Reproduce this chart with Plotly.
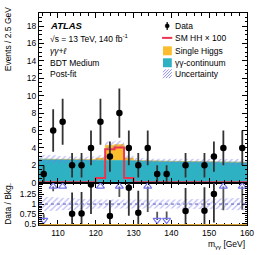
import numpy as np
import plotly.graph_objects as go

# ---------------- data ----------------
bin_lo, bin_hi, bin_w = 105.0, 160.0, 2.5
edges = np.arange(bin_lo, bin_hi + bin_w / 2, bin_w)
centers = 0.5 * (edges[:-1] + edges[1:])

data_counts = [1, 6, 7, 2, 2, 4, 7, 3, 8, 4, 2, 4, 1, 1, 0, 2, 0, 2, 3, 4, 0, 4]
continuum = [2.70, 2.68, 2.66, 2.64, 2.62, 2.60, 2.58, 2.56, 2.55, 2.53, 2.51,
             2.50, 2.48, 2.46, 2.45, 2.43, 2.42, 2.40, 2.39, 2.37, 2.36, 2.34]
single_higgs = [0, 0, 0, 0, 0, 0.08, 0.25, 1.75, 1.85, 0.30, 0.05,
                0, 0, 0, 0, 0, 0, 0, 0, 0, 0, 0]
sm_hh_x100 = [0.05, 0.05, 0.05, 0.05, 0.05, 0.05, 0.55, 3.85, 4.05, 0.55, 0.05,
              0.05, 0.05, 0.05, 0.05, 0.05, 0.05, 0.05, 0.05, 0.05, 0.05, 0.05]
bkg_unc = [0.50, 0.46, 0.42, 0.38, 0.35, 0.33, 0.32, 0.42, 0.42, 0.30, 0.28,
           0.27, 0.27, 0.27, 0.28, 0.29, 0.30, 0.31, 0.32, 0.34, 0.36, 0.38]

x_ticks = [110, 120, 130, 140, 150, 160]
ratio_ticks = [0.5, 0.75, 1, 1.25]

# ---------------- styling ----------------
W, H = 266, 255
ML, MR, MT, MB = 39, 14, 12, 30
PW, PH = W - ML - MR, H - MT - MB
split = (225 - 182.5) / PH
Y_MAIN = [0, 19.5]
Y_RAT = [0.47, 1.54]
CYAN = "#2eb2c3"
ORANGE = "#fbbd2d"
RED = "#ea3550"
HATCH = "#7474f0"
FONT = "Liberation Sans, Arial, sans-serif"
FS = 8.5


def px(xp):
    return (xp - ML) / PW


def py(yp):
    return (H - MB - yp) / PH


def step(vals):
    xs, ys = [], []
    for i, v in enumerate(vals):
        xs += [edges[i], edges[i + 1]]
        ys += [v, v]
    return xs, ys


n = np.array(data_counts, dtype=float)
cont = np.array(continuum)
hig = np.array(single_higgs)
bkg = cont + hig
unc = np.array(bkg_unc)

fig = go.Figure()

# continuum
xs, ys = step(cont)
fig.add_trace(go.Scatter(x=xs, y=ys, mode="lines", fill="tozeroy", fillcolor=CYAN,
                         line=dict(color=CYAN, width=0.8), xaxis="x", yaxis="y",
                         showlegend=False, hoverinfo="skip"))
# single higgs stacked
xs, ys = step(bkg)
fig.add_trace(go.Scatter(x=xs, y=ys, mode="lines", fill="tonexty", fillcolor=ORANGE,
                         line=dict(color=ORANGE, width=0.5), xaxis="x", yaxis="y",
                         showlegend=False, hoverinfo="skip"))
# uncertainty band
xu, yu = step(bkg + unc)
xl, yl = step(bkg - unc)
fig.add_trace(go.Scatter(x=xu + xl[::-1], y=yu + yl[::-1], mode="lines", fill="toself",
                         fillcolor="rgba(0,0,0,0)",
                         fillpattern=dict(shape="/", fgcolor=HATCH, bgcolor="rgba(0,0,0,0)",
                                          size=4, solidity=0.3, fillmode="overlay"),
                         line=dict(width=0), xaxis="x", yaxis="y",
                         showlegend=False, hoverinfo="skip"))
# SM HH x100
xs, ys = step(sm_hh_x100)
fig.add_trace(go.Scatter(x=xs, y=ys, mode="lines", line=dict(color=RED, width=2),
                         xaxis="x", yaxis="y", showlegend=False, hoverinfo="skip"))
# data
m = n > 0
fig.add_trace(go.Scatter(x=centers[m], y=n[m], mode="markers",
                         marker=dict(color="black", size=6.5),
                         error_y=dict(type="data", array=np.sqrt(n[m]), color="#333333",
                                      thickness=1.8, width=0),
                         xaxis="x", yaxis="y", showlegend=False, hoverinfo="skip"))

# ---------------- ratio panel ----------------
rb_hi = 1 + unc / bkg
rb_lo = 1 - unc / bkg
xu, yu = step(rb_hi)
xl, yl = step(rb_lo)
fig.add_trace(go.Scatter(x=xu + xl[::-1], y=yu + yl[::-1], mode="lines", fill="toself",
                         fillcolor="rgba(0,0,0,0)",
                         fillpattern=dict(shape="/", fgcolor=HATCH, bgcolor="rgba(0,0,0,0)",
                                          size=4, solidity=0.3, fillmode="overlay"),
                         line=dict(width=0), xaxis="x2", yaxis="y2",
                         showlegend=False, hoverinfo="skip"))

ratio = n / bkg
rerr = np.sqrt(n) / bkg
UP_Y, DN_Y = 1.446, 0.595
inr = (n > 0) & (ratio <= Y_RAT[1] + 0.02) & (ratio >= Y_RAT[0])
up = (n > 0) & (ratio > Y_RAT[1] + 0.02)
dn = (n > 0) & (ratio < Y_RAT[0])

fig.add_trace(go.Scatter(x=centers[inr], y=ratio[inr], mode="markers",
                         marker=dict(color="black", size=6.5),
                         error_y=dict(type="data", array=rerr[inr], color="#333333",
                                      thickness=1.8, width=0),
                         xaxis="x2", yaxis="y2", showlegend=False, hoverinfo="skip"))
up_minus = np.clip(UP_Y - (ratio[up] - rerr[up]), 0, None)
fig.add_trace(go.Scatter(x=centers[up], y=[UP_Y] * int(up.sum()), mode="markers",
                         marker=dict(symbol="triangle-up-open", color=HATCH, size=7,
                                     line=dict(width=1.2, color=HATCH)),
                         error_y=dict(type="data", symmetric=False, array=[0] * int(up.sum()),
                                      arrayminus=up_minus, color="#555555", thickness=1.8, width=0),
                         xaxis="x2", yaxis="y2", showlegend=False, hoverinfo="skip"))
dn_plus = np.clip((ratio[dn] + rerr[dn]) - DN_Y, 0, None)
fig.add_trace(go.Scatter(x=centers[dn], y=[DN_Y] * int(dn.sum()), mode="markers",
                         marker=dict(symbol="triangle-down-open", color=HATCH, size=7,
                                     line=dict(width=1.2, color=HATCH)),
                         error_y=dict(type="data", symmetric=False, array=dn_plus,
                                      arrayminus=[0] * int(dn.sum()), color="#555555",
                                      thickness=1.8, width=0),
                         xaxis="x2", yaxis="y2", showlegend=False, hoverinfo="skip"))

# ---------------- axes ----------------
tickfont = dict(family=FONT, size=FS, color="black")
common_x = dict(range=[bin_lo, bin_hi], tickvals=x_ticks, ticks="inside", ticklen=5,
                tickcolor="black", showline=True, linecolor="black", linewidth=1,
                mirror="ticks", showgrid=False, zeroline=False, tickfont=tickfont,
                minor=dict(dtick=2, tick0=100, ticks="inside", ticklen=2.5, tickcolor="black"))
fig.update_layout(
    width=W, height=H, margin=dict(l=ML, r=MR, t=MT, b=MB),
    paper_bgcolor="white", plot_bgcolor="white", showlegend=False,
    font=dict(family=FONT, size=FS, color="black"),
    xaxis=dict(domain=[0, 1], anchor="y", showticklabels=False, **common_x),
    xaxis2=dict(domain=[0, 1], anchor="y2", matches="x", showticklabels=True, **common_x),
    yaxis=dict(domain=[split, 1], anchor="x", range=Y_MAIN, dtick=2, tick0=0, ticks="inside",
               ticklen=5, tickcolor="black", showline=True, linecolor="black", linewidth=1,
               mirror="ticks", showgrid=False, zeroline=False, tickfont=tickfont,
               minor=dict(dtick=0.5, ticks="inside", ticklen=2.5, tickcolor="black")),
    yaxis2=dict(domain=[0, split], anchor="x2", range=Y_RAT, tickvals=ratio_ticks,
                ticks="inside", ticklen=5, tickcolor="black", showline=True, linecolor="black",
                linewidth=1, mirror="ticks", showgrid=False, zeroline=False, tickfont=tickfont,
                minor=dict(dtick=0.05, ticks="inside", ticklen=2.5, tickcolor="black")),
)

shapes = []
# dotted unity line
shapes.append(dict(type="line", xref="x2 domain", yref="y2", x0=0, x1=1, y0=1, y1=1,
                   line=dict(color="#5a5ab0", width=1, dash="dot")))
# bottom orange line in ratio panel
shapes.append(dict(type="line", xref="x2 domain", yref="y2 domain", x0=0, x1=1, y0=0.01, y1=0.01,
                   line=dict(color="#d8a43a", width=1.2)))

# manual legend
ann = []
leg_text_x = px(176)
leg_rows = [25, 37, 50, 62, 73]
leg_labels = ["Data", "SM HH × 100", "Single Higgs", "γγ-continuum", "Uncertainty"]
for yy, lab in zip(leg_rows, leg_labels):
    ann.append(dict(xref="paper", yref="paper", x=leg_text_x, y=py(yy), text=lab,
                    showarrow=False, xanchor="left", yanchor="middle",
                    font=dict(family=FONT, size=FS)))
# data symbol
shapes.append(dict(type="line", xref="paper", yref="paper", x0=px(170.3), x1=px(170.3),
                   y0=py(21), y1=py(29), line=dict(color="#333333", width=1.5)))
shapes.append(dict(type="circle", xref="paper", yref="paper", x0=px(168.2), x1=px(172.4),
                   y0=py(27.1), y1=py(22.9), fillcolor="black", line=dict(color="black", width=0.5)))
# HH line
shapes.append(dict(type="line", xref="paper", yref="paper", x0=px(165), x1=px(175.5),
                   y0=py(37), y1=py(37), line=dict(color=RED, width=2)))
# single higgs
shapes.append(dict(type="rect", xref="paper", yref="paper", x0=px(166), x1=px(175),
                   y0=py(54.5), y1=py(45.5), fillcolor=ORANGE, line=dict(width=0)))
# continuum
shapes.append(dict(type="rect", xref="paper", yref="paper", x0=px(166), x1=px(175),
                   y0=py(66.5), y1=py(57.5), fillcolor=CYAN, line=dict(width=0)))
# uncertainty hatch swatch
hx0, hx1, hy0, hy1 = 166, 175, 68.5, 77.5
for k in range(-9, 10, 3):
    ax0, ay0 = hx0 + max(0, k), hy1 - max(0, -k)
    ax1, ay1 = hx0 + min(9, 9 + k), hy1 - min(9, 9 - k)
    shapes.append(dict(type="line", xref="paper", yref="paper", x0=px(ax0), x1=px(ax1),
                       y0=py(ay0), y1=py(ay1), line=dict(color=HATCH, width=0.8)))

# text block
txt_x = px(48)
ann.append(dict(xref="paper", yref="paper", x=txt_x, y=py(25), text="<b><i>ATLAS</i></b>",
                showarrow=False, xanchor="left", yanchor="middle", font=dict(family=FONT, size=9.5)))
ann.append(dict(xref="paper", yref="paper", x=txt_x, y=py(37.5),
                text="√s = 13 TeV, 140 fb<sup>-1</sup>",
                showarrow=False, xanchor="left", yanchor="middle", font=dict(family=FONT, size=FS)))
ann.append(dict(xref="paper", yref="paper", x=txt_x, y=py(50), text="<i>γγ+ℓ</i>",
                showarrow=False, xanchor="left", yanchor="middle", font=dict(family=FONT, size=FS)))
ann.append(dict(xref="paper", yref="paper", x=txt_x, y=py(62), text="BDT Medium",
                showarrow=False, xanchor="left", yanchor="middle", font=dict(family=FONT, size=FS)))
ann.append(dict(xref="paper", yref="paper", x=txt_x, y=py(73), text="Post-fit",
                showarrow=False, xanchor="left", yanchor="middle", font=dict(family=FONT, size=FS)))

# axis titles
ann.append(dict(xref="paper", yref="paper", x=px(7), y=py(3), text="Events / 2.5 GeV",
                textangle=-90, showarrow=False, xanchor="center", yanchor="top",
                font=dict(family=FONT, size=FS)))
ann.append(dict(xref="paper", yref="paper", x=px(7), y=py(204), text="Data / Bkg.",
                textangle=-90, showarrow=False, xanchor="center", yanchor="middle",
                font=dict(family=FONT, size=FS)))
ann.append(dict(xref="paper", yref="paper", x=1.0, y=py(245), text="m<sub>γγ</sub> [GeV]",
                showarrow=False, xanchor="right", yanchor="middle",
                font=dict(family=FONT, size=FS)))

fig.update_layout(shapes=shapes, annotations=ann)
fig.write_html("out.html", config={"displayModeBar": False},
               post_script="document.body.style.margin='0px';document.body.style.padding='0px';")
